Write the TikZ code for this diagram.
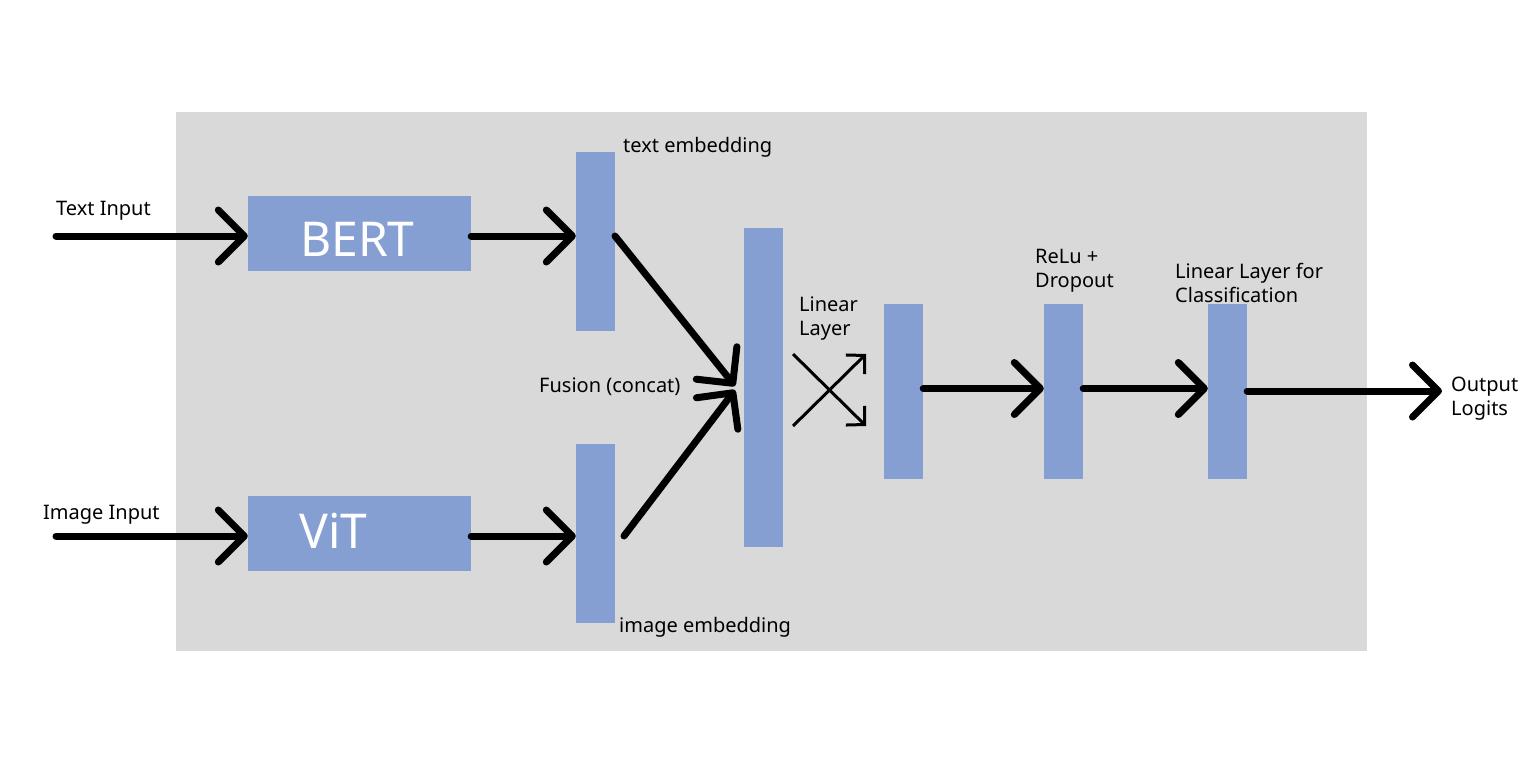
\documentclass[tikz,border=0pt]{standalone}
\usepackage{fontspec}
\setmainfont{Noto Sans}
\usetikzlibrary{arrows.meta}
\definecolor{bgray}{RGB}{217,217,217}
\definecolor{barblue}{RGB}{134,159,211}
\begin{document}
\begin{tikzpicture}[x=1pt,y=-1pt,
  lbl/.style={inner sep=0pt, anchor=west, align=left, font=\fontsize{20}{24}\selectfont},
  blk/.style={fill=barblue, draw=none, inner sep=0pt},
  enc/.style={blk, minimum width=223pt, minimum height=75pt},
  enctxt/.style={inner sep=0pt, anchor=west, text=white, font=\fontsize{48}{52}\selectfont},
  vbar/.style={blk, minimum width=39pt},
  bigarrow/.style={line width=7pt, line cap=round, line join=round, -{Straight Barb[length=26pt,width=52pt,round]}},
  thinarrow/.style={line width=3pt, -{Straight Barb[length=13pt,width=27pt]}}]
\useasboundingbox (0,0) rectangle (1536,764);
\fill[bgray] (176,112) rectangle (1367,651);

% encoders
\node[enc] (bert) at (359.5,233.5) {};
\node[enc] (vit) at (359.5,533.5) {};
\node[enctxt] (bertt) at (300,239.5) {BERT};
\node[enctxt] (vitt) at (299,531) {ViT};

% embedding bars
\node[vbar, minimum height=179pt] (te) at (595.5,241.5) {};
\node[vbar, minimum height=179pt] (ie) at (595.5,533.5) {};
\node[vbar, minimum height=319pt] (fu) at (763.5,387.5) {};
\node[vbar, minimum height=175pt] (b1) at (903.5,391.5) {};
\node[vbar, minimum height=175pt] (b2) at (1063.5,391.5) {};
\node[vbar, minimum height=175pt] (b3) at (1227.5,391.5) {};

% labels
\node[lbl] (ltxt) at (56,211) {Text Input};
\node[lbl] (limg) at (43,515) {Image Input};
\node[lbl] (lte) at (623,147) {text embedding};
\node[lbl] (lie) at (619,627) {image embedding};
\node[lbl] (lfu) at (539,387) {Fusion (concat)};
\node[lbl] (llin) at (799,319) {Linear\\Layer};
\node[lbl] (lrelu) at (1035,271) {ReLu +\\Dropout};
\node[lbl] (lcls) at (1175,283) {Linear Layer for\\Classification};
\node[lbl] (lout) at (1451,399) {Output\\Logits};

% free ends
\coordinate (tin) at (56,236);
\coordinate (iin) at (56,536);
\coordinate (f1) at (735,386);
\coordinate (f2) at (735,390);
\coordinate (ie0) at (624,536);
\coordinate (te0) at (615,236);
\coordinate (x1) at (793,354);
\coordinate (x2) at (866,426);
\coordinate (x3) at (793,426);
\coordinate (x4) at (866,354);
\coordinate (out) at (1442,391);

% arrows
\draw[bigarrow] (tin) -- (tin -| bert.west);
\draw[bigarrow] (iin) -- (iin -| vit.west);
\draw[bigarrow] (bert.east |- tin) -- (te.west |- tin);
\draw[bigarrow] (vit.east |- iin) -- (ie.west |- iin);
\draw[bigarrow] (te0) -- (f1);
\draw[bigarrow] (ie0) -- (f2);
\draw[thinarrow] (x1) -- (x2);
\draw[thinarrow] (x3) -- (x4);
\draw[bigarrow] ([yshift=3pt]b1.east) -- ([yshift=3pt]b2.west);
\draw[bigarrow] ([yshift=3pt]b2.east) -- ([yshift=3pt]b3.west);
\draw[bigarrow] (b3.east |- out) -- (out);
\end{tikzpicture}
\end{document}
